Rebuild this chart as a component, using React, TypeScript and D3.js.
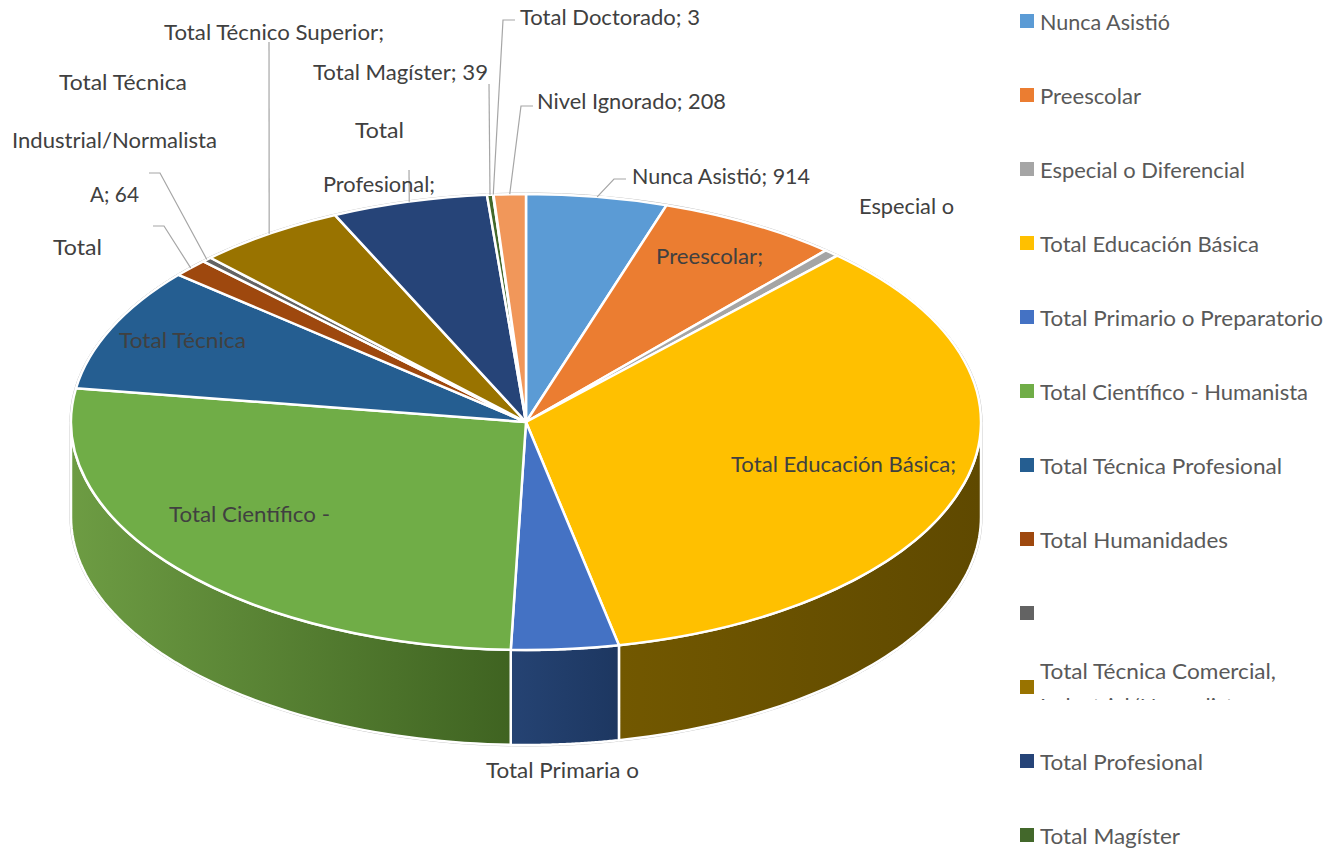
import * as d3 from "d3";

const categories = [
  "Nunca Asistió", "Preescolar", "Especial o Diferencial", "Total Educación Básica",
  "Total Primario o Preparatorio", "Total Científico - Humanista", "Total Técnica Profesional",
  "Total Humanidades", "Total Técnica Industrial/Normalista A", "Total Técnico Superior",
  "Total Profesional", "Total Magíster", "Total Doctorado", "Nivel Ignorado",
];
const values = [914, 1178, 100, 6350, 696, 4905, 1610, 234, 64, 970, 1010, 39, 3, 208];
const colors = [
  "#5B9BD5", "#EB7D31", "#A5A5A5", "#FFC000", "#4472C4", "#70AD47", "#255E91",
  "#9E480E", "#636363", "#997300", "#264478", "#43682B", "#698ED0", "#F1975A",
];
const legendLabels = [
  "Nunca Asistió", "Preescolar", "Especial o Diferencial", "Total Educación Básica",
  "Total Primario o Preparatorio", "Total Científico - Humanista", "Total Técnica Profesional",
  "Total Humanidades", "", "Total Técnica Comercial,", "Total Profesional", "Total Magíster",
];
const legendSecondLine = "Industrial/Normalista";

// layout
const cx = 526, cy = 422, rx = 455, ry = 228, depth = 95;
const font = "Lato, sans-serif";
const labelSize = 22;

// text widths measured on the reference, Lato runs a bit different from the original font
const legendWidths = [130, 101, 205, 219, 283, 268, 242, 188, 0, 236, 163, 140];

// wall gradient per slice that shows in front: [left colour, right colour]
const wallStops = {
  3: ["#725800", "#5f4900"],
  4: ["#254373", "#1d3761"],
  5: ["#6d9c43", "#3f6321"],
};

const textLabels = [
  { x: 520, y: 25, w: 180, text: "Total Doctorado; 3" },
  { x: 537, y: 109, w: 189, text: "Nivel Ignorado; 208" },
  { x: 313, y: 80, w: 175, text: "Total Magíster; 39" },
  { x: 632, y: 184, w: 178, text: "Nunca Asistió; 914" },
  { x: 859, y: 214, w: 95, text: "Especial o" },
  { x: 656, y: 264, w: 107, text: "Preescolar;" },
  { x: 731, y: 472, w: 225, text: "Total Educación Básica;" },
  { x: 169, y: 522, w: 161, text: "Total Científico -" },
  { x: 119, y: 348, w: 127, text: "Total Técnica" },
  { x: 486, y: 778, w: 153, text: "Total Primaria o" },
  { x: 164, y: 40, w: 220, text: "Total Técnico Superior;" },
  { x: 59, y: 90, w: 128, text: "Total Técnica" },
  { x: 12, y: 148, w: 205, text: "Industrial/Normalista" },
  { x: 90, y: 202, w: 49, text: "A; 64" },
  { x: 53, y: 255, w: 49, text: "Total" },
  { x: 355, y: 138, w: 49, text: "Total" },
  { x: 323, y: 192, w: 112, text: "Profesional;" },
];

// leader lines: slice index, then elbow points towards the text
const leaders = [
  { slice: 12, pts: [[503, 20], [515, 20]] },
  { slice: 13, pts: [[521, 106], [533, 106]] },
  { slice: 11, pts: [[489, 84]] },
  { slice: 0, pts: [[614, 179], [626, 179]] },
  { slice: 9, pts: [[269, 42]] },
  { slice: 8, pts: [[160, 173], [149, 173]] },
  { slice: 7, pts: [[164, 226], [153, 226]] },
  { slice: 10, pts: [[409, 170]] },
];

const pie = d3.pie<number>().sort(null);
const arcs = pie(values);
const arc = d3.arc<d3.PieArcDatum<number>>().innerRadius(0).outerRadius(rx);

const rimX = (a: number) => cx + rx * Math.sin(a);
const rimY = (a: number) => cy - ry * Math.cos(a);
const line = d3.line();

// side wall of a slice, only the part between 3 and 9 o'clock is visible
function wallPath(a0: number, a1: number) {
  const start = Math.max(a0, Math.PI / 2);
  const end = Math.min(a1, (3 * Math.PI) / 2);
  if (end <= start) return null;
  const steps = d3.range(0, 61).map((i) => start + ((end - start) * i) / 60);
  const top = steps.map((a) => [rimX(a), rimY(a)] as [number, number]);
  const bottom = steps.map((a) => [rimX(a), rimY(a) + depth] as [number, number]).reverse();
  return line([...top, ...bottom]) + "Z";
}

// outer silhouette of the whole disc
const silhouette = () => {
  const back = d3.range(0, 121).map((i) => {
    const a = -Math.PI / 2 + (Math.PI * i) / 120;
    return [cx + (rx + 1) * Math.sin(a), cy - (ry + 1) * Math.cos(a)] as [number, number];
  });
  const front = d3.range(0, 121).map((i) => {
    const a = Math.PI / 2 + (Math.PI * i) / 120;
    return [cx + (rx + 1) * Math.sin(a), cy - (ry + 1) * Math.cos(a) + depth] as [number, number];
  });
  return line([...back, ...front]) + "Z";
};

export default function App() {
  return (
    <svg
      width={1330}
      height={852}
      style={{ position: "absolute", left: 0, top: 0, background: "#fff" }}
      fontFamily={font}
    >
      <defs>
        {arcs.map((d, i) =>
          wallStops[i] ? (
            <linearGradient
              key={i}
              id={`wall${i}`}
              gradientUnits="userSpaceOnUse"
              x1={rimX(Math.min(d.endAngle, 1.5 * Math.PI))}
              x2={rimX(Math.max(d.startAngle, Math.PI / 2))}
              y1={0}
              y2={0}
            >
              <stop offset="0" stopColor={wallStops[i][0]} />
              <stop offset="1" stopColor={wallStops[i][1]} />
            </linearGradient>
          ) : null
        )}
        <clipPath id="legendClip">
          <rect x={1000} y={640} width={330} height={60} />
        </clipPath>
      </defs>

      <path d={silhouette()} fill="#fff" stroke="#b8b8b8" strokeWidth={1} />

      {arcs.map((d, i) => {
        const p = wallPath(d.startAngle, d.endAngle);
        return p ? (
          <path key={i} d={p} fill={`url(#wall${i})`} stroke="#fff" strokeWidth={2.5} />
        ) : null;
      })}

      <g transform={`translate(${cx},${cy}) scale(1,${ry / rx})`}>
        {arcs.map((d, i) => (
          <path
            key={i}
            d={arc(d) as string}
            fill={colors[i]}
            stroke="#fff"
            strokeWidth={2.5}
            strokeLinejoin="round"
            vectorEffect="non-scaling-stroke"
          />
        ))}
      </g>

      {leaders.map((l, i) => {
        const d = arcs[l.slice];
        const mid = (d.startAngle + d.endAngle) / 2;
        const pts = [[rimX(mid), rimY(mid)], ...l.pts] as [number, number][];
        return <path key={i} d={line(pts) as string} fill="none" stroke="#a6a6a6" strokeWidth={1.2} />;
      })}

      {textLabels.map((t, i) => (
        <text key={i} x={t.x} y={t.y} fontSize={labelSize} fill="#404040" textLength={t.w} lengthAdjust="spacingAndGlyphs">
          {t.text}
        </text>
      ))}

      {legendLabels.map((label, i) => (
        <g key={i}>
          <rect x={1020} y={14 + i * 74} width={14} height={14} fill={colors[i]} />
          {label && (
            <text
              x={1040}
              y={i === 9 ? 679 : 30 + i * 74}
              fontSize={labelSize}
              fill="#595959"
              textLength={legendWidths[i]}
              lengthAdjust="spacingAndGlyphs"
            >
              {label}
            </text>
          )}
        </g>
      ))}
      <g clipPath="url(#legendClip)">
        <text x={1040} y={714} fontSize={labelSize} fill="#595959">
          {legendSecondLine}
        </text>
      </g>
    </svg>
  );
}
